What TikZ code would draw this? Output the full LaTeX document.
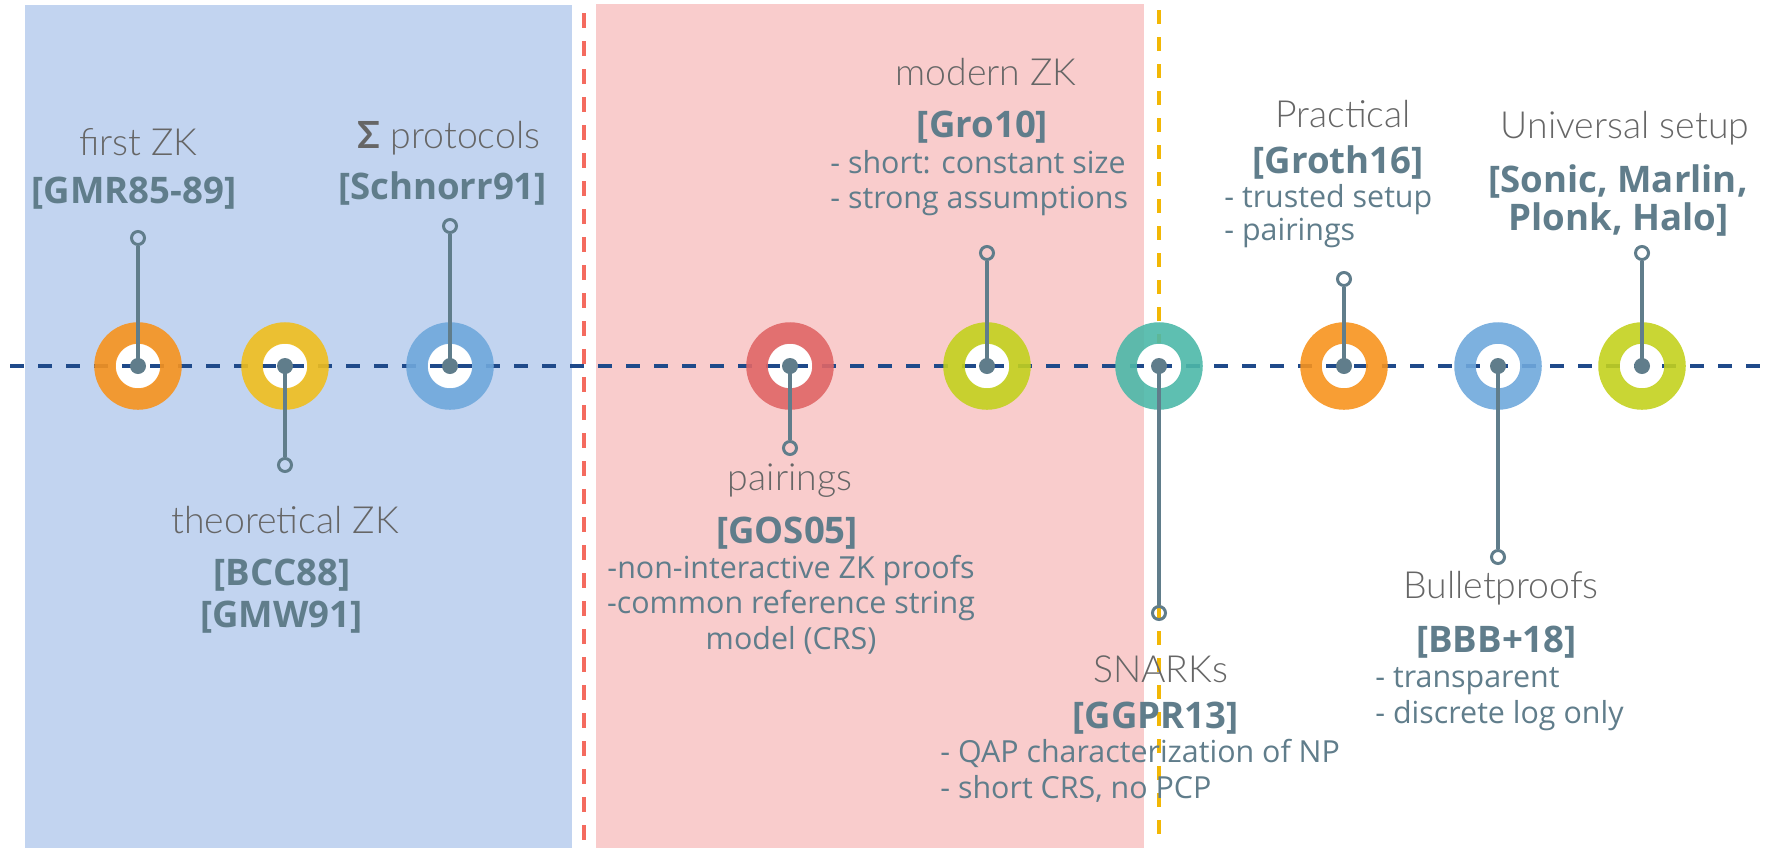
\documentclass[tikz,border=0pt]{standalone}
\usepackage{fontspec}
\setmainfont{Open Sans}
\newfontfamily\titlefont{Lato Light}
\newfontfamily\sigmafont{Lato}

\definecolor{bgblue}{HTML}{C2D4F0}
\definecolor{bgpink}{HTML}{F9CCCC}
\definecolor{eraRed}{HTML}{F46B5F}
\definecolor{eraAmber}{HTML}{F2B705}
\definecolor{axisBlue}{HTML}{1F4A8A}
\definecolor{slate}{HTML}{607D8B}
\definecolor{titlegray}{HTML}{666666}
\definecolor{rOrange}{HTML}{F7931E}
\definecolor{rYellow}{HTML}{F0BE1E}
\definecolor{rBlue}{HTML}{6FA8DC}
\definecolor{rRed}{HTML}{E06666}
\definecolor{rLime}{HTML}{C3D11E}
\definecolor{rTeal}{HTML}{4DB8A8}

\tikzset{
  hole/.style={circle, fill=white, minimum size=23pt, inner sep=0pt},
  ringnode/.style={circle, draw=#1, line width=10.75pt, minimum size=33pt, inner sep=0pt, draw opacity=0.9},
  pinend/.style={circle, draw=slate, line width=1.5pt, minimum size=6.5pt, inner sep=0pt},
  pinline/.style={slate, line width=1.6pt},
  title/.style={font=\titlefont\fontsize{18.7}{21}\selectfont, text=titlegray, anchor=base, inner sep=0pt},
  ref/.style={font=\bfseries\fontsize{18.3}{21}\selectfont, text=slate, anchor=base, inner sep=0pt},
  body/.style={font=\fontsize{15.2}{18}\selectfont, text=slate, anchor=base west, inner sep=0pt},
  bodyc/.style={body, anchor=base},
}

\begin{document}
\begin{tikzpicture}[x=0.5pt, y=-0.5pt]
\useasboundingbox (0,0) rectangle (1776,848);

% era backgrounds
\fill[bgblue] (25,5) rectangle (572,848);
\fill[bgpink] (596,4) rectangle (1144,848);

% era separators
\coordinate (redtop) at (584,13);
\coordinate (redbot) at (584,848);
\coordinate (ambertop) at (1159,10);
\coordinate (amberbot) at (1159,836);
\draw[eraRed, line width=2pt, dash pattern=on 7.5pt off 6.5pt] (redtop) -- (redbot);
\draw[eraAmber, line width=2pt, dash pattern=on 7pt off 6.5pt] (ambertop) -- (amberbot);

% white centres of the milestone rings
\foreach \i/\x in {1/138, 2/285, 3/450, 4/790, 5/987, 6/1159, 7/1344, 8/1498, 9/1642}
  \node[hole] (h\i) at (\x,366) {};

% time axis
\coordinate (axisL) at (10,366);
\coordinate (axisR) at (1762,366);
\draw[axisBlue, line width=2pt, dash pattern=on 7pt off 7pt] (axisL) -- (axisR);

% milestone rings
\foreach \i/\x/\col in {1/138/rOrange, 2/285/rYellow, 3/450/rBlue, 4/790/rRed, 5/987/rLime,
                        6/1159/rTeal, 7/1344/rOrange, 8/1498/rBlue, 9/1642/rLime}
  \node[ringnode=\col] (c\i) at (\x,366) {};

% pins from each milestone to its label
\foreach \i/\x/\y in {1/138/238, 2/285/465, 3/450/226, 4/790/448, 5/987/253,
                      6/1159/613, 7/1344/279, 8/1498/557, 9/1642/253} {
  \node[pinend] (p\i) at (\x,\y) {};
  \draw[pinline] (c\i.center) -- (p\i);
  \fill[slate] (c\i.center) circle (4pt);
}

% labels: first era
\node[title] (t1) at (138.5,155) {first ZK};
\node[ref] (r1) at (134,203) {[GMR85-89]};
\node[title] (t3) at (449,148) {{\sigmafont\bfseries\fontsize{18.7}{21}\selectfont Σ} protocols};
\node[ref] (r3) at (442.5,199) {[Schnorr91]};
\node[title] (t2) at (285,533) {theoretical ZK};
\node[ref] (r2a) at (282,585) {[BCC88]};
\node[ref] (r2b) at (281.5,627) {[GMW91]};

% labels: second era
\node[title] (t4) at (790,490) {pairings};
\node[ref] (r4) at (787,543) {[GOS05]};
\node[bodyc] (b4a) at (791,578) {-non-interactive ZK proofs};
\node[bodyc] (b4b) at (791,613) {-common reference string};
\node[bodyc] (b4c) at (791,649) {model (CRS)};
\node[title] (t5) at (986,85) {modern ZK};
\node[ref] (r5) at (982.5,137) {[Gro10]};
\node[body] (b5a) at (830,173) {- short: constant size};
\node[body] (b5b) at (830,208) {- strong assumptions};

% labels: third era
\node[title] (t6) at (1160.5,682) {SNARKs};
\node[ref] (r6) at (1155.6,728) {[GGPR13]};
\node[body] (b6a) at (940,762) {- QAP characterization of NP};
\node[body] (b6b) at (940,798) {- short CRS, no PCP};
\node[title] (t7) at (1343,127) {Practical};
\node[ref] (r7) at (1338,173) {[Groth16]};
\node[body] (b7a) at (1224,207) {- trusted setup};
\node[body] (b7b) at (1224,240) {- pairings};
\node[title] (t8) at (1501,598) {Bulletproofs};
\node[ref] (r8) at (1496.5,652) {[BBB+18]};
\node[body] (b8a) at (1375,687) {- transparent};
\node[body] (b8b) at (1375,723) {- discrete log only};
\node[title] (t9) at (1625,138) {Universal setup};
\node[ref] (r9a) at (1618,192) {[Sonic, Marlin,};
\node[ref] (r9b) at (1618.5,230) {Plonk, Halo]};
\end{tikzpicture}
\end{document}
